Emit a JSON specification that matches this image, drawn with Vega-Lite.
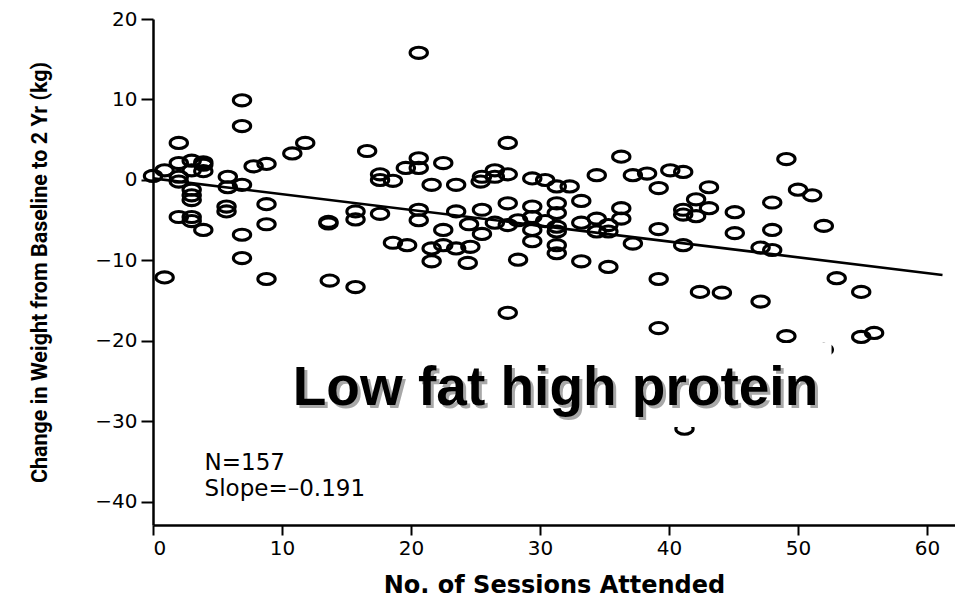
{
  "$schema": "https://vega.github.io/schema/vega-lite/v6.json",
  "width": 802,
  "height": 506,
  "autosize": {"type": "none"},
  "padding": {"left": 153, "top": 19, "right": 0, "bottom": 75},
  "background": "white",
  "config": {
    "view": {"stroke": null},
    "axis": {
      "domainColor": "black", "domainWidth": 2.5, "tickColor": "black", "tickWidth": 2,
      "labelColor": "black", "titleColor": "black", "grid": false,
      "labelFont": "DejaVu Sans", "labelFontSize": 20
    }
  },
  "datasets": {
    "pts": [
      {"s":0,"w":0.5},{"s":0.9,"w":1.2},{"s":0.9,"w":-12.1},{"s":2,"w":4.6},{"s":2,"w":2.1},{"s":2,"w":0.4},{"s":2,"w":-0.2},{"s":2,"w":-4.6},
      {"s":3,"w":2.4},{"s":3,"w":1.2},{"s":3,"w":-1.2},{"s":3,"w":-1.9},{"s":3,"w":-2.5},{"s":3,"w":-4.6},{"s":3,"w":-5.1},
      {"s":3.9,"w":2.2},{"s":3.9,"w":1.9},{"s":3.9,"w":1.1},{"s":3.9,"w":-6.2},{"s":5.8,"w":0.4},{"s":5.8,"w":-0.9},{"s":5.7,"w":-3.3},{"s":5.7,"w":-3.9},
      {"s":6.9,"w":9.9},{"s":6.9,"w":6.7},{"s":6.9,"w":-0.6},{"s":6.9,"w":-6.8},{"s":6.9,"w":-9.7},{"s":7.8,"w":1.7},
      {"s":8.8,"w":2.0},{"s":8.8,"w":-3.0},{"s":8.8,"w":-5.5},{"s":8.8,"w":-12.3},{"s":10.8,"w":3.3},{"s":11.8,"w":4.6},
      {"s":13.6,"w":-5.2},{"s":13.6,"w":-5.4},{"s":13.7,"w":-12.5},{"s":15.7,"w":-3.9},{"s":15.7,"w":-4.9},{"s":15.7,"w":-13.3},
      {"s":16.6,"w":3.6},{"s":17.6,"w":0.7},{"s":17.6,"w":0.0},{"s":17.6,"w":-4.2},{"s":18.6,"w":-0.1},{"s":18.6,"w":-7.8},
      {"s":19.6,"w":1.5},{"s":19.7,"w":-8.1},{"s":20.6,"w":15.8},{"s":20.6,"w":2.7},{"s":20.6,"w":1.5},{"s":20.6,"w":-3.7},{"s":20.6,"w":-5.0},
      {"s":21.6,"w":-0.6},{"s":21.6,"w":-8.5},{"s":21.6,"w":-10.1},{"s":22.5,"w":2.1},{"s":22.5,"w":-6.2},{"s":22.5,"w":-8.1},
      {"s":23.5,"w":-0.6},{"s":23.5,"w":-3.9},{"s":23.5,"w":-8.5},{"s":24.5,"w":-5.5},{"s":24.6,"w":-8.3},{"s":24.4,"w":-10.3},
      {"s":25.4,"w":-0.2},{"s":25.5,"w":0.4},{"s":25.5,"w":-3.7},{"s":25.5,"w":-6.7},{"s":26.5,"w":1.2},{"s":26.5,"w":0.4},{"s":26.5,"w":-5.3},
      {"s":27.5,"w":4.6},{"s":27.5,"w":0.7},{"s":27.5,"w":-2.9},{"s":27.5,"w":-5.6},{"s":27.5,"w":-16.5},{"s":28.3,"w":-5.0},{"s":28.3,"w":-9.9},
      {"s":29.4,"w":0.2},{"s":29.4,"w":-3.3},{"s":29.4,"w":-4.6},{"s":29.4,"w":-6.2},{"s":29.4,"w":-7.6},{"s":30.4,"w":0.0},{"s":30.4,"w":-5.1},
      {"s":31.3,"w":-0.8},{"s":31.3,"w":-2.9},{"s":31.3,"w":-4.1},{"s":31.3,"w":-5.8},{"s":31.3,"w":-6.4},{"s":31.3,"w":-8.1},{"s":31.3,"w":-9.1},
      {"s":32.3,"w":-0.8},{"s":33.2,"w":-2.6},{"s":33.2,"w":-5.3},{"s":33.2,"w":-10.1},{"s":34.4,"w":0.6},{"s":34.4,"w":-4.8},{"s":34.4,"w":-6.4},
      {"s":35.3,"w":-5.6},{"s":35.3,"w":-6.4},{"s":35.3,"w":-10.8},{"s":36.3,"w":2.9},{"s":36.3,"w":-3.5},{"s":36.3,"w":-4.8},
      {"s":37.2,"w":0.6},{"s":37.2,"w":-7.9},{"s":38.3,"w":0.8},{"s":39.2,"w":-1.0},{"s":39.2,"w":-6.1},{"s":39.2,"w":-12.3},{"s":39.2,"w":-18.4},
      {"s":40.1,"w":1.2},{"s":41.1,"w":1.0},{"s":41.1,"w":-3.7},{"s":41.1,"w":-4.3},{"s":41.1,"w":-8.1},{"s":41.2,"w":-30.9},
      {"s":42.1,"w":-2.4},{"s":42.1,"w":-4.5},{"s":42.4,"w":-13.9},{"s":43.1,"w":-0.9},{"s":43.1,"w":-3.5},{"s":44.1,"w":-14.0},
      {"s":45.1,"w":-4.0},{"s":45.1,"w":-6.6},{"s":47.1,"w":-8.4},{"s":47.1,"w":-15.1},{"s":48.0,"w":-2.8},{"s":48.0,"w":-6.2},{"s":48.0,"w":-8.7},
      {"s":49.1,"w":2.6},{"s":49.1,"w":-19.4},{"s":50.0,"w":-1.2},{"s":51.1,"w":-1.9},{"s":52.0,"w":-5.7},{"s":52.0,"w":-21.1},
      {"s":53.0,"w":-12.2},{"s":54.9,"w":-13.9},{"s":54.9,"w":-19.5},{"s":55.9,"w":-19.0}
    ],
    "fit": [{"s":0,"w":0.2},{"s":61.2,"w":-11.8}],
    "one": [{"k": 1}]
  },
  "layer": [
    {
      "data": {"name": "pts"},
      "mark": {"type": "point", "shape": "M-1,0A1,0.64,0,1,0,1,0A1,0.64,0,1,0,-1,0Z", "size": 300, "filled": false, "stroke": "black", "strokeWidth": 3.1, "opacity": 1},
      "encoding": {
        "x": {"field": "s", "type": "quantitative", "scale": {"domain": [0, 62.17], "nice": false, "zero": false},
          "axis": {"values": [0,10,20,30,40,50,60], "tickSize": 10, "labelPadding": 3, "labelFontSize": 20, "labelFont": "DejaVu Sans",
            "title": "No. of Sessions Attended", "titleFont": "DejaVu Sans", "titleFontWeight": "bold", "titleFontSize": 24,
            "titleY": 60, "titleBaseline": "middle"}},
        "y": {"field": "w", "type": "quantitative", "scale": {"domain": [-42.86, 20], "nice": false, "zero": false},
          "axis": {"values": [-40,-30,-20,-10,0,10,20], "tickSize": 12, "labelPadding": 4, "labelFontSize": 20,
            "title": "Change in Weight from Baseline to 2 Yr (kg)", "titleFont": "Roboto",
            "titleFontWeight": "bold", "titleFontSize": 21.5, "titleX": -113, "titleY": 253, "titleAngle": -90, "titleBaseline": "middle", "titleAlign": "center"}}
      }
    },
    {
      "data": {"name": "fit"},
      "mark": {"type": "line", "color": "black", "strokeWidth": 2.6},
      "encoding": {"x": {"field": "s", "type": "quantitative"}, "y": {"field": "w", "type": "quantitative"}}
    },
    {
      "data": {"name": "one"},
      "mark": {"type": "rect", "color": "white", "opacity": 1},
      "encoding": {"x": {"datum": 10.2}, "x2": {"datum": 52.6}, "y": {"datum": -20.25}, "y2": {"datum": -30.7}}
    },
    {
      "data": {"name": "one"},
      "mark": {"type": "text", "text": "Low fat high protein", "font": "Liberation Sans", "fontWeight": "bold", "fontSize": 55, "color": "#a8a8a8", "align": "center", "baseline": "alphabetic", "dx": 3, "dy": 3},
      "encoding": {"x": {"datum": 31.2}, "y": {"datum": -28.0}}
    },
    {
      "data": {"name": "one"},
      "mark": {"type": "text", "text": "Low fat high protein", "font": "Liberation Sans", "fontWeight": "bold", "fontSize": 55, "color": "black", "align": "center", "baseline": "alphabetic"},
      "encoding": {"x": {"datum": 31.2}, "y": {"datum": -28.0}}
    },
    {
      "data": {"name": "one"},
      "mark": {"type": "text", "text": "N=157", "font": "DejaVu Sans", "fontSize": 23, "color": "black", "align": "left", "baseline": "alphabetic"},
      "encoding": {"x": {"datum": 4.0}, "y": {"datum": -36.0}}
    },
    {
      "data": {"name": "one"},
      "mark": {"type": "text", "text": "Slope=–0.191", "font": "DejaVu Sans", "fontSize": 23, "color": "black", "align": "left", "baseline": "alphabetic"},
      "encoding": {"x": {"datum": 4.0}, "y": {"datum": -39.25}}
    }
  ]
}
